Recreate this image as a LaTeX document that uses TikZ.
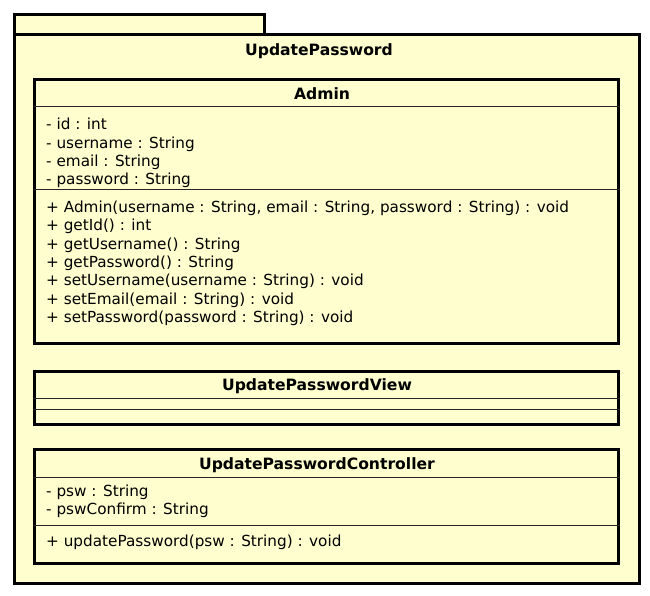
\documentclass[tikz,border=0pt]{standalone}
\usepackage{fontspec}
\setmainfont{DejaVu Sans}
\definecolor{umlfill}{HTML}{FEFECE}
\begin{document}
\begin{tikzpicture}[x=1pt,y=-1pt,
  box/.style={draw=black, line width=3pt, fill=umlfill, inner sep=0pt, anchor=north west},
  sep/.style={draw=black!85, line width=1pt},
  txt/.style={anchor=base west, inner sep=0pt, font=\fontsize{15.25}{18}\selectfont},
  ttl/.style={anchor=base, inner sep=0pt, font=\fontsize{15.6}{18}\selectfont\bfseries}]
\useasboundingbox (0,0) rectangle (650,596);
% package
\node[box, minimum width=250pt, minimum height=20pt] (tab) at (13,13) {};
\node[box, minimum width=625pt, minimum height=549pt] (pkg) at (13,33) {};
\node[ttl] (pkgtitle) at (319,56) {UpdatePassword};
% Admin
\node[box, minimum width=584pt, minimum height=264pt] (admin) at (33,78) {};
\node[ttl] (admintitle) at (322,100) {Admin};
\draw[sep] (admin.west |- 0,107) -- (admin.east |- 0,107);
\node[txt] (a1) at (46,130) {- id : int};
\node[txt] (a2) at (46,148.2) {- username : String};
\node[txt] (a3) at (46,166.4) {- email : String};
\node[txt] (a4) at (46,184.6) {- password : String};
\draw[sep] (admin.west |- 0,190) -- (admin.east |- 0,190);
\node[txt] (m1) at (46,212.3) {+ Admin(username : String, email : String, password : String) : void};
\node[txt] (m2) at (46,230.65) {+ getId() : int};
\node[txt] (m3) at (46,249) {+ getUsername() : String};
\node[txt] (m4) at (46,267.35) {+ getPassword() : String};
\node[txt] (m5) at (46,285.7) {+ setUsername(username : String) : void};
\node[txt] (m6) at (46,304.05) {+ setEmail(email : String) : void};
\node[txt] (m7) at (46,322.4) {+ setPassword(password : String) : void};
% View
\node[box, minimum width=584pt, minimum height=53pt] (view) at (33,370) {};
\node[ttl] (viewtitle) at (317,390) {UpdatePasswordView};
\draw[sep] (view.west |- 0,398) -- (view.east |- 0,398);
\draw[sep] (view.west |- 0,409) -- (view.east |- 0,409);
% Controller
\node[box, minimum width=584pt, minimum height=114pt] (ctrl) at (33,448) {};
\node[ttl] (ctrltitle) at (317,469) {UpdatePasswordController};
\draw[sep] (ctrl.west |- 0,477) -- (ctrl.east |- 0,477);
\node[txt] (c1) at (46,496.5) {- psw : String};
\node[txt] (c2) at (46,514.5) {- pswConfirm : String};
\draw[sep] (ctrl.west |- 0,525.5) -- (ctrl.east |- 0,525.5);
\node[txt] (c3) at (46,546) {+ updatePassword(psw : String) : void};
\end{tikzpicture}
\end{document}
